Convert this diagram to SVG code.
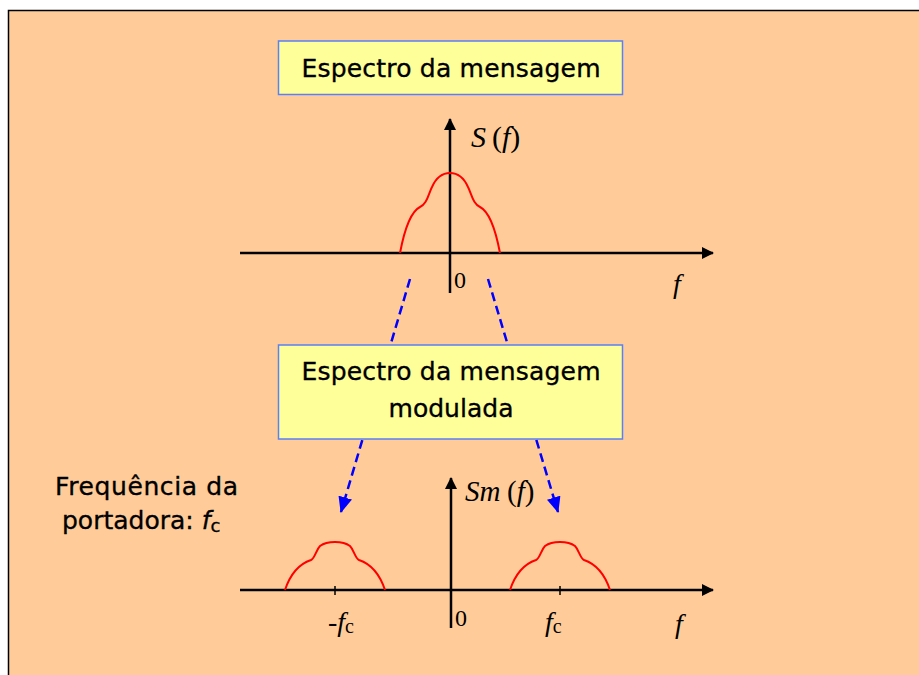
<svg xmlns="http://www.w3.org/2000/svg" width="919" height="675" viewBox="0 0 919 675">
<style>
.sans{font-family:"DejaVu Sans","Liberation Sans",sans-serif;fill:#000;stroke:#000;stroke-width:0.35}
.serif{font-family:"Liberation Serif","Times New Roman",serif;fill:#000}
.it{font-style:italic}
.box{fill:#FFFF99;stroke:#5B7FF5;stroke-width:1.5}
.axis{stroke:#000;stroke-width:2.5;fill:none}
.spec{stroke:#FF0000;stroke-width:2;fill:none}
.dash{stroke:#0000FF;stroke-width:2.5;stroke-dasharray:9 5;fill:none}
</style>
<defs>
<marker id="ah" viewBox="0 0 12 12" refX="11" refY="6" markerWidth="12" markerHeight="12" markerUnits="userSpaceOnUse" orient="auto">
<path d="M0,0 L12,6 L0,12 Z" fill="#000"/>
</marker>
<marker id="bh" viewBox="0 0 16 14" refX="15" refY="7" markerWidth="16" markerHeight="14" markerUnits="userSpaceOnUse" orient="auto">
<path d="M0,0 L16,7 L0,14 Z" fill="#0000FF"/>
</marker>
</defs>
<rect x="0" y="0" width="919" height="675" fill="#FFFFFF"/>
<rect x="8.5" y="10.5" width="920" height="680" fill="#FFCC99" stroke="#000" stroke-width="1.5"/>

<g id="connectors">
<line class="dash" x1="410" y1="279" x2="341" y2="512" marker-end="url(#bh)"/>
<line class="dash" x1="488" y1="279" x2="558" y2="512" marker-end="url(#bh)"/>
</g>

<g id="box-top">
<rect class="box" x="278.5" y="41" width="344" height="53.5"/>
<text class="sans" x="451" y="77" font-size="25" text-anchor="middle" textLength="299" lengthAdjust="spacing">Espectro da mensagem</text>
</g>

<g id="spectrum-top">
<line class="axis" x1="240" y1="253" x2="713" y2="253" marker-end="url(#ah)"/>
<line class="axis" x1="450" y1="293" x2="450" y2="119" marker-end="url(#ah)"/>
<path class="spec" d="M400,253 C404,232 410,212 420,207 C427,204 428,195 432,187 C436,178 442,173 450,173 C458,173 464,178 468,187 C472,195 473,204 480,207 C490,212 496,232 500,253"/>
<text class="serif it" x="471" y="147" font-size="30">S</text>
<text class="serif" x="492" y="147" font-size="30">(<tspan class="it">f</tspan>)</text>
<text class="serif" x="454" y="288" font-size="24">0</text>
<text class="serif it" x="673" y="293" font-size="28">f</text>
</g>

<g id="box-mid">
<rect class="box" x="278.5" y="345" width="344" height="94"/>
<text class="sans" x="451" y="380" font-size="25" text-anchor="middle" textLength="299" lengthAdjust="spacing">Espectro da mensagem</text>
<text class="sans" x="451" y="417" font-size="25" text-anchor="middle" textLength="125" lengthAdjust="spacing">modulada</text>
</g>

<g id="label-carrier">
<text class="sans" x="55" y="495" font-size="25" textLength="183" lengthAdjust="spacing">Frequência da</text>
<text class="sans" x="62" y="529" font-size="25">portadora: <tspan class="it">f</tspan><tspan font-size="18" dy="3">c</tspan></text>
</g>

<g id="spectrum-bottom">
<line class="axis" x1="240" y1="590" x2="713" y2="590" marker-end="url(#ah)"/>
<line class="axis" x1="451" y1="628" x2="451" y2="478" marker-end="url(#ah)"/>
<line stroke="#000" stroke-width="1.5" x1="335" y1="586" x2="335" y2="595"/>
<line stroke="#000" stroke-width="1.5" x1="560" y1="586" x2="560" y2="595"/>
<path class="spec" d="M285,590 C290,575 299,564 311,560 C315,558 316,550 320,546 C324,543 330,542 335,542 C340,542 346,543 350,546 C354,550 355,558 359,560 C371,564 380,575 385,590"/>
<path class="spec" d="M510,590 C515,575 524,564 536,560 C540,558 541,550 545,546 C549,543 555,542 560,542 C565,542 571,543 575,546 C579,550 580,558 584,560 C596,564 605,575 610,590"/>
<text class="serif it" x="465" y="501" font-size="29">Sm</text>
<text class="serif" x="507" y="501" font-size="29">(<tspan class="it">f</tspan>)</text>
<text class="serif" x="455" y="626" font-size="24">0</text>
<text class="serif" x="328" y="631" font-size="28">-<tspan class="it">f</tspan><tspan font-size="20" dy="2">c</tspan></text>
<text class="serif it" x="545" y="631" font-size="28">f<tspan font-style="normal" font-size="20" dy="2">c</tspan></text>
<text class="serif it" x="675" y="633" font-size="28">f</text>
</g>
</svg>
